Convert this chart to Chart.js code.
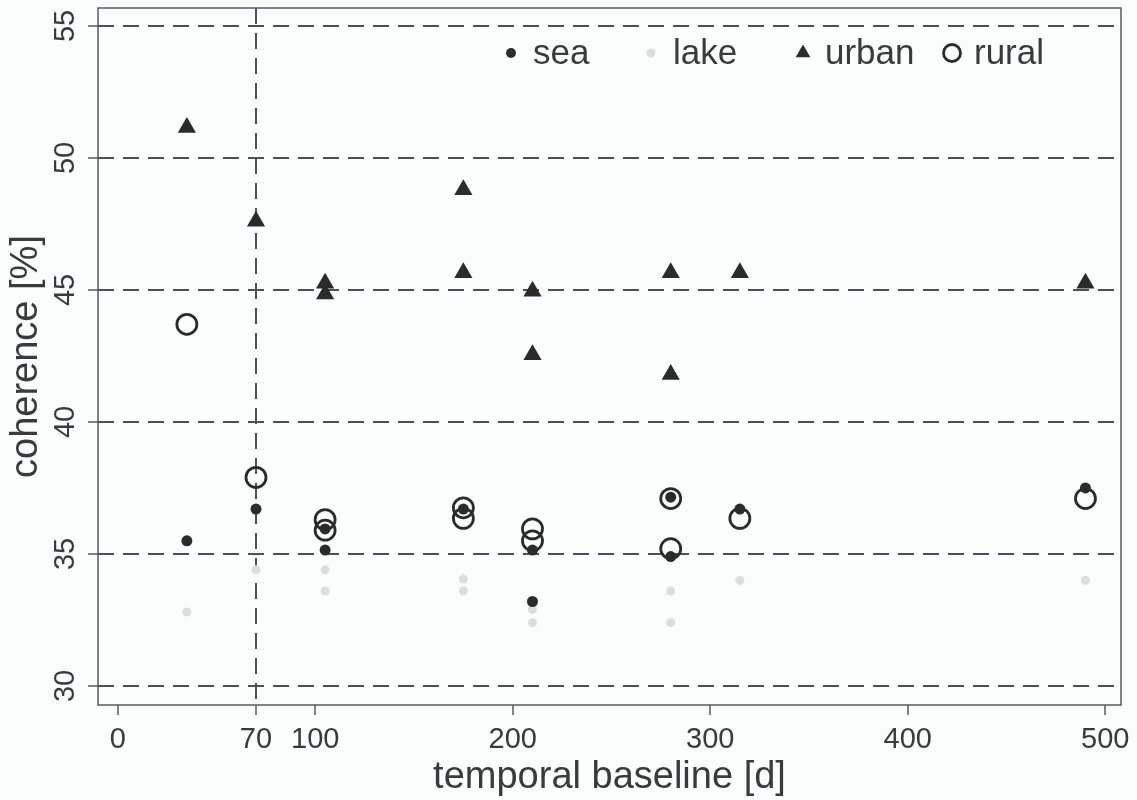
<!DOCTYPE html>
<html>
<head>
<meta charset="utf-8">
<script src="https://cdn.jsdelivr.net/npm/chart.js@4.4.1/dist/chart.umd.min.js"></script>
<style>
  html, body { margin: 0; padding: 0; background: #fbfcfc; }
  canvas { display: block; }
</style>
</head>
<body>
<canvas id="cohChart" width="1137" height="800"></canvas>
<script>
// temporal baseline in days, coherence in %
const seaDays = [35, 70, 105, 105, 175, 210, 210, 280, 280, 315, 490];
const seaValues = [35.5, 36.7, 35.95, 35.15, 36.7, 35.15, 33.2, 37.15, 34.9, 36.7, 37.5];

const lakeDays = [35, 70, 105, 105, 175, 175, 210, 210, 280, 280, 315, 490];
const lakeValues = [32.8, 34.4, 34.4, 33.6, 34.05, 33.6, 32.9, 32.4, 33.6, 32.4, 34.0, 34.0];

const urbanDays = [35, 70, 105, 105, 175, 175, 210, 210, 280, 280, 315, 490];
const urbanValues = [51.15, 47.6, 45.25, 44.85, 48.8, 45.65, 44.95, 42.55, 45.65, 41.8, 45.65, 45.25];

const ruralDays = [35, 70, 105, 105, 175, 175, 210, 210, 280, 280, 315, 490];
const ruralValues = [43.7, 37.9, 36.3, 35.9, 36.75, 36.35, 35.95, 35.5, 37.1, 35.2, 36.35, 37.1];

const xTickValues = [0, 70, 100, 200, 300, 400, 500];
const yTickValues = [30, 35, 40, 45, 50, 55];

const seriesLabels = ['sea', 'lake', 'urban', 'rural'];

const INK = '#2b2b2b'
const TEXT = '#3a3a3a'
const GRID = '#4f4f4f'

Chart.defaults.font.family = "'Liberation Sans', Arial, sans-serif";
Chart.defaults.color = TEXT;

function pairs(days, vals) {
    return days.map((d, i) => ({ x: d, y: vals[i] }));
}

const bgPlugin = {
    id: 'bg',
    beforeDraw(chart) {
        const ctx = chart.ctx;
        ctx.save();
        ctx.fillStyle = '#fbfcfc';
        ctx.fillRect(0, 0, chart.width, chart.height);
        ctx.restore();
    }
};

// box round the plot area
const framePlugin = {
    id: 'frame',
    afterDatasetsDraw(chart) {
        const { ctx, chartArea: a } = chart;
        ctx.save();
        ctx.strokeStyle = '#5a5a5a';
        ctx.lineWidth = 1.5;
        ctx.strokeRect(a.left, a.top, a.right - a.left, a.bottom - a.top);
        ctx.restore();
    }
};

// legend inside the plot, top right, like the original
const legendPlugin = {
    id: 'insideLegend',
    afterDraw(chart) {
        const { ctx, chartArea: a } = chart;
        const y = a.top + 45;
        const markerX = [511, 651, 803, 952];
        ctx.save();
        ctx.font = "35px 'Liberation Sans', Arial, sans-serif";
        ctx.textBaseline = 'middle';
        chart.data.datasets.forEach((ds, i) => {
            const mx = markerX[i];
            const style = {
                pointStyle: ds.pointStyle,
                radius: ds.legendRadius,
                borderWidth: ds.pointBorderWidth,
                rotation: 0
            };
            ctx.fillStyle = ds.pointBackgroundColor;
            ctx.strokeStyle = ds.pointBorderColor;
            ctx.lineWidth = ds.pointBorderWidth;
            Chart.helpers.drawPoint(ctx, style, mx, y);
            ctx.fillStyle = TEXT;
            ctx.fillText(ds.label, mx + 22, y + 1);
        });
        ctx.restore();
    }
};

const ctx = document.getElementById('cohChart').getContext('2d');

new Chart(ctx, {
    type: 'scatter',
    data: {
        datasets: [
            {
                label: seriesLabels[0],
                data: pairs(seaDays, seaValues),
                pointStyle: 'circle',
                pointRadius: 5.5,
                legendRadius: 5,
                pointBackgroundColor: INK,
                pointBorderColor: INK,
                pointBorderWidth: 0
            },
            {
                label: seriesLabels[1],
                data: pairs(lakeDays, lakeValues),
                pointStyle: 'circle',
                pointRadius: 4.5,
                legendRadius: 4.5,
                pointBackgroundColor: '#dcdede',
                pointBorderColor: '#dcdede',
                pointBorderWidth: 0
            },
            {
                label: seriesLabels[2],
                data: pairs(urbanDays, urbanValues),
                pointStyle: 'triangle',
                pointRadius: 10.5,
                legendRadius: 8.5,
                pointBackgroundColor: INK,
                pointBorderColor: INK,
                pointBorderWidth: 0
            },
            {
                label: seriesLabels[3],
                data: pairs(ruralDays, ruralValues),
                pointStyle: 'circle',
                pointRadius: 10,
                legendRadius: 8.5,
                pointBackgroundColor: 'rgba(0,0,0,0)',
                pointBorderColor: INK,
                pointBorderWidth: 2.8
            }
        ]
    },
    options: {
        responsive: false,
        animation: false,
        events: [],
        layout: { autoPadding: false, padding: { top: 8, right: 16, left: 0, bottom: 0 } },
        plugins: {
            legend: { display: false },
            tooltip: { enabled: false }
        },
        scales: {
            x: {
                type: 'linear',
                min: -10,
                max: 508,
                afterBuildTicks: axis => { axis.ticks = xTickValues.map(v => ({ value: v })); },
                afterFit: axis => { axis.height = 95; axis.paddingLeft = 0; axis.paddingRight = 0; },
                ticks: {
                    autoSkip: false,
                    maxRotation: 0,
                    padding: 8,
                    font: { size: 29 },
                    color: TEXT
                },
                grid: {
                    color: c => (c.tick && c.tick.value === 70) ? GRID : 'rgba(0,0,0,0)',
                    lineWidth: 2,
                    tickColor: '#5a5a5a',
                    tickWidth: 1.5,
                    tickLength: 10
                },
                border: { display: false, dash: [16, 9] },
                title: {
                    display: true,
                    text: 'temporal baseline [d]',
                    font: { size: 38 },
                    color: TEXT,
                    padding: { top: 0, bottom: 0 }
                }
            },
            y: {
                type: 'linear',
                min: 29.28,
                max: 55.68,
                afterBuildTicks: axis => { axis.ticks = yTickValues.map(v => ({ value: v })); },
                afterFit: axis => { axis.width = 98; axis.paddingTop = 0; axis.paddingBottom = 0; },
                ticks: {
                    minRotation: 90,
                    maxRotation: 90,
                    crossAlign: 'center',
                    padding: 6,
                    font: { size: 29 },
                    color: TEXT
                },
                grid: {
                    color: GRID,
                    lineWidth: 2,
                    tickColor: '#5a5a5a',
                    tickWidth: 1.5,
                    tickLength: 10
                },
                border: { display: false, dash: [16, 9] },
                title: {
                    display: true,
                    text: 'coherence [%]',
                    font: { size: 38 },
                    color: TEXT,
                    padding: { top: 4, bottom: 0 }
                }
            }
        }
    },
    plugins: [bgPlugin, framePlugin, legendPlugin]
});
</script>
</body>
</html>
